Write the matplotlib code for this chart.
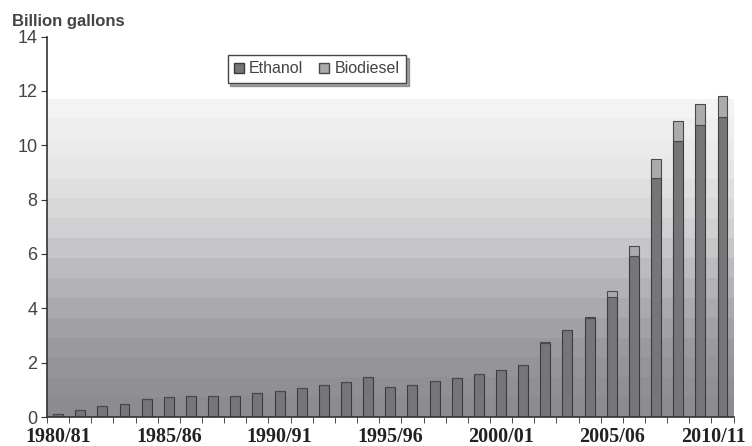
import numpy as np
import matplotlib.pyplot as plt
import matplotlib.transforms as mtransforms
from matplotlib.colors import LinearSegmentedColormap
from matplotlib.patches import Patch

# Marketing years 1980/81 .. 2010/11
seasons = [f"{y}/{(y + 1) % 100:02d}" for y in range(1980, 2011)]

# Production, billion gallons
ethanol = [0.10, 0.26, 0.39, 0.47, 0.65, 0.75, 0.79, 0.79, 0.79, 0.89,
           0.96, 1.08, 1.19, 1.30, 1.47, 1.09, 1.19, 1.33, 1.43, 1.58,
           1.72, 1.92, 2.74, 3.19, 3.64, 4.40, 5.93, 8.81, 10.16, 10.74, 11.04]
biodiesel = [0.0, 0.0, 0.0, 0.0, 0.0, 0.0, 0.0, 0.0, 0.0, 0.0,
             0.0, 0.0, 0.0, 0.0, 0.0, 0.0, 0.0, 0.0, 0.0, 0.0,
             0.0, 0.0, 0.01, 0.02, 0.04, 0.23, 0.37, 0.70, 0.73, 0.77, 0.76]

label_every = 5
x = np.arange(len(seasons))

fig = plt.figure(figsize=(7.52, 4.46), dpi=100)
ax = fig.add_axes([0.0625, 0.065, 0.913, 0.853])

# banded grey backdrop behind the bars
grad_top = 11.7
shade = LinearSegmentedColormap.from_list(
    "shade", ["#8c8c90", "#9a9a9e", "#b3b3b7", "#d1d1d3", "#e6e6e7", "#f3f3f3"])
levels = np.linspace(0, 1, 16).reshape(-1, 1)
ax.imshow(levels, cmap=shade, origin="lower", aspect="auto",
          extent=(-0.5, len(seasons) - 0.5, 0, grad_top),
          interpolation="nearest", zorder=0)

w = 0.45
ax.bar(x, ethanol, width=w, color="#767678", edgecolor="#3c3c3c",
       linewidth=0.8, zorder=2)
ax.bar(x, biodiesel, width=w, bottom=ethanol, color="#ababad",
       edgecolor="#4a4a4a", linewidth=0.8, zorder=2)

ax.set_xlim(-0.5, len(seasons) - 0.5)
ax.set_ylim(0, 14)

for side in ("top", "right"):
    ax.spines[side].set_visible(False)
for side in ("left", "bottom"):
    ax.spines[side].set_color("#333333")
    ax.spines[side].set_linewidth(1.2)

ax.set_yticks(np.arange(0, 15, 2))
ax.tick_params(axis="y", direction="out", length=4, color="#333333",
               labelsize=13, labelcolor="#444444", pad=3)
for lab in ax.get_yticklabels():
    lab.set_fontfamily("Liberation Sans")

ax.set_xticks(x[::label_every])
ax.set_xticklabels(seasons[::label_every], fontfamily="Liberation Serif",
                   fontweight="bold", fontsize=14.5, color="#222222")
ax.set_xticks(np.arange(-0.5, len(seasons), 1), minor=True)
ax.tick_params(axis="x", which="major", length=0, pad=7.5)
ax.tick_params(axis="x", which="minor", direction="out", length=4,
               color="#333333")
# keep the last season label inside the canvas
last = ax.get_xticklabels()[-1]
last.set_transform(last.get_transform() +
                   mtransforms.ScaledTranslation(-0.09, 0, fig.dpi_scale_trans))

fig.text(0.016, 0.942, "Billion gallons", fontfamily="Liberation Sans",
         fontweight="bold", fontsize=12, color="#444444")

handles = [Patch(facecolor="#767678", edgecolor="#3c3c3c", label="Ethanol"),
           Patch(facecolor="#ababad", edgecolor="#4a4a4a", label="Biodiesel")]
leg = ax.legend(handles=handles, loc="center", bbox_to_anchor=(0.393, 0.915),
                ncol=2, frameon=True, fancybox=False, shadow=True,
                prop={"family": "Liberation Sans", "size": 11.5},
                handlelength=0.6, handleheight=0.6, handletextpad=0.35,
                columnspacing=1.0, borderpad=0.4, labelcolor="#444444")
leg.get_frame().set_edgecolor("#444444")
leg.get_frame().set_linewidth(1.0)

fig.savefig("out.png", dpi=100)
